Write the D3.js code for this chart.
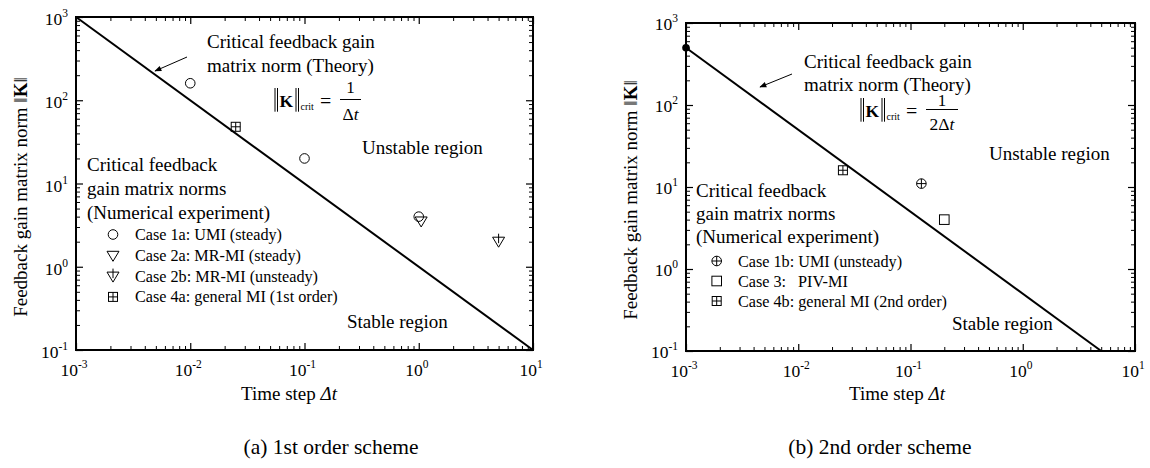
<!DOCTYPE html>
<html>
<head>
<meta charset="utf-8">
<script src="https://cdn.jsdelivr.net/npm/d3@7"></script>
<style>
  body { margin: 0; background: #fff; }
  svg { display: block; }
  text { font-family: "Liberation Serif", "Times New Roman", serif; fill: #000; }
</style>
</head>
<body>
<div id="chart"></div>
<script>
// Chart size
const width = 1150;
const height = 468;

// Axis decades (exponents of 10)
const xDecades = [-3, -2, -1, 0, 1];
const yDecades = [-1, 0, 1, 2, 3];

// Theory lines: ||K||crit = 1/dt  and  1/(2 dt)
const theoryA_dt = [0.001, 10];
const theoryA_K = [1000, 0.1];
const theoryB_dt = [0.001, 5];
const theoryB_K = [500, 0.1];

// (a) 1st order scheme: numerical cases
const case1a_dt = [0.01, 0.1, 1.0];
const case1a_K = [160, 20, 4];
const case2a_dt = [1.05];
const case2a_K = [3.5];
const case2b_dt = [5];
const case2b_K = [2];
const case4a_dt = [0.025];
const case4a_K = [48];

// (b) 2nd order scheme: numerical cases
const case1b_dt = [0.125];
const case1b_K = [11];
const case3_dt = [0.2];
const case3_K = [4];
const case4b_dt = [0.025];
const case4b_K = [16];

// legend labels
const legendA = ["Case 1a: UMI (steady)", "Case 2a: MR-MI (steady)", "Case 2b: MR-MI (unsteady)", "Case 4a: general MI (1st order)"];
const legendB = ["Case 1b: UMI (unsteady)", "Case 3:", "Case 4b: general MI (2nd order)"];

const svg = d3.select("#chart").append("svg")
  .attr("width", width)
  .attr("height", height);

// marker shapes, drawn around (cx, cy)
function drawMarker(g, type, cx, cy) {
  const s = g.append("g").attr("fill", "none").attr("stroke", "#000").attr("stroke-width", 1);
  if (type === "circle") {
    s.append("circle").attr("cx", cx).attr("cy", cy).attr("r", 4.8);
  } else if (type === "tri") {
    s.append("path").attr("d", `M${cx-6},${cy-4.5}L${cx+6},${cy-4.5}L${cx},${cy+5.5}Z`);
  } else if (type === "trivert") {
    s.append("path").attr("d", `M${cx-6},${cy-4.5}L${cx+6},${cy-4.5}L${cx},${cy+5.5}Z`);
    s.append("line").attr("x1", cx).attr("x2", cx).attr("y1", cy - 8).attr("y2", cy + 1.5);
  } else if (type === "boxplus") {
    s.append("rect").attr("x", cx - 4.5).attr("y", cy - 4.5).attr("width", 9).attr("height", 9);
    s.append("path").attr("d", `M${cx-4.5},${cy}L${cx+4.5},${cy}M${cx},${cy-4.5}L${cx},${cy+4.5}`);
  } else if (type === "square") {
    s.append("rect").attr("x", cx - 4.8).attr("y", cy - 4.8).attr("width", 9.6).attr("height", 9.6);
  } else if (type === "oplus") {
    s.append("circle").attr("cx", cx).attr("cy", cy).attr("r", 4.8);
    s.append("path").attr("d", `M${cx-4.8},${cy}L${cx+4.8},${cy}M${cx},${cy-4.8}L${cx},${cy+4.8}`);
  }
}

// "10^e" label
function pow10(t, e) {
  t.text("10");
  t.append("tspan").attr("dy", -8).attr("font-size", 11.5).text(e);
}

function panel(p) {
  const g = svg.append("g");
  const x = d3.scaleLog().domain([1e-3, 10]).range([p.x0, p.x1]);
  const y = d3.scaleLog().domain([0.1, 1000]).range([p.y1, p.y0]);

  const xMajor = xDecades.map(d => Math.pow(10, d));
  const yMajor = yDecades.map(d => Math.pow(10, d));
  const minorOf = decs => {
    const out = [];
    decs.slice(0, -1).forEach(d => { for (let k = 2; k <= 9; k++) out.push(k * Math.pow(10, d)); });
    return out;
  };
  const xMinor = minorOf(xDecades);
  const yMinor = minorOf(yDecades);

  // inward ticks on all four sides
  const axes = [
    [d3.axisBottom(x), `translate(0,${p.y1})`, xMajor, xMinor],
    [d3.axisTop(x), `translate(0,${p.y0})`, xMajor, xMinor],
    [d3.axisLeft(y), `translate(${p.x0},0)`, yMajor, yMinor],
    [d3.axisRight(y), `translate(${p.x1},0)`, yMajor, yMinor]
  ];
  axes.forEach(([ax, tr, major, minor]) => {
    const a1 = g.append("g").attr("transform", tr)
      .call(ax.tickValues(major).tickSize(-7).tickFormat(""));
    a1.select(".domain").remove();
    a1.selectAll("line").attr("stroke", "#000").attr("stroke-width", 1.2);
    const a2 = g.append("g").attr("transform", tr)
      .call(ax.tickValues(minor).tickSize(-4).tickFormat(""));
    a2.select(".domain").remove();
    a2.selectAll("line").attr("stroke", "#000").attr("stroke-width", 1);
  });

  g.append("rect")
    .attr("x", p.x0).attr("y", p.y0)
    .attr("width", p.x1 - p.x0).attr("height", p.y1 - p.y0)
    .attr("fill", "none").attr("stroke", "#000").attr("stroke-width", 2);

  // tick labels
  xDecades.forEach(d => {
    const t = g.append("text").attr("x", x(Math.pow(10, d)) - 2).attr("y", p.y1 + 26)
      .attr("text-anchor", "middle").attr("font-size", 17.5);
    pow10(t, d);
  });
  yDecades.forEach(d => {
    const t = g.append("text").attr("x", p.x0 - 8).attr("y", y(Math.pow(10, d)) + p.ytOff)
      .attr("text-anchor", "end").attr("font-size", 17.5);
    pow10(t, d);
  });

  // axis titles
  const xt = g.append("text").attr("x", p.xTitleX).attr("y", 400)
    .attr("text-anchor", "middle").attr("font-size", 19).text("Time step ");
  xt.append("tspan").attr("font-style", "italic").text("\u0394t");

  const yt = g.append("text")
    .attr("transform", `translate(${p.yTitleX},${p.yTitleY}) rotate(-90)`)
    .attr("text-anchor", "middle").attr("font-size", 19).text("Feedback gain matrix norm \u2016");
  yt.append("tspan").attr("font-weight", "bold").text("K");
  yt.append("tspan").text("\u2016");

  // theory line
  const line = d3.line().x(d => x(d[0])).y(d => y(d[1]));
  g.append("path")
    .datum(p.lineDt.map((v, i) => [v, p.lineK[i]]))
    .attr("d", line)
    .attr("fill", "none").attr("stroke", "#000").attr("stroke-width", 2);

  // data markers
  p.series.forEach(s => {
    s.dt.forEach((v, i) => drawMarker(g, s.type, x(v), y(s.K[i])));
  });

  return { g, x, y };
}

// arrow helper
svg.append("defs").append("marker")
  .attr("id", "ah").attr("viewBox", "0 0 10 10").attr("refX", 9).attr("refY", 5)
  .attr("markerWidth", 9).attr("markerHeight", 7).attr("orient", "auto")
  .append("path").attr("d", "M0,1L10,5L0,9Z").attr("fill", "#000");

function arrow(x1, y1, x2, y2) {
  svg.append("line").attr("x1", x1).attr("y1", y1).attr("x2", x2).attr("y2", y2)
    .attr("stroke", "#000").attr("stroke-width", 1).attr("marker-end", "url(#ah)");
}

function txt(x, y, s, size, anchor) {
  return svg.append("text").attr("x", x).attr("y", y)
    .attr("font-size", size || 19).attr("text-anchor", anchor || "start").text(s);
}

// ||K||_crit = 1 / denom, K baseline at (xb, yb)
function formula(xb, yb, denom, barW, numOff) {
  const f = svg.append("g");
  const bar = (xx) => f.append("line").attr("x1", xx).attr("x2", xx).attr("y1", yb - 19).attr("y2", yb + 4.7)
    .attr("stroke", "#000").attr("stroke-width", 1);
  bar(xb); bar(xb + 2.5);
  f.append("text").attr("x", xb + 4.5).attr("y", yb).attr("font-size", 17.5).attr("font-weight", "bold").text("K");
  bar(xb + 21); bar(xb + 23.5);
  f.append("text").attr("x", xb + 25.5).attr("y", yb + 3).attr("font-size", 10).text("crit");
  f.append("text").attr("x", xb + 45).attr("y", yb + 1).attr("font-size", 20).text("=");
  const fx0 = xb + 65;
  f.append("line").attr("x1", fx0).attr("x2", fx0 + barW).attr("y1", yb - 7.5).attr("y2", yb - 7.5)
    .attr("stroke", "#000").attr("stroke-width", 1);
  f.append("text").attr("x", fx0 + barW / 2).attr("y", yb - numOff).attr("font-size", 17)
    .attr("text-anchor", "middle").text("1");
  const d = f.append("text").attr("x", fx0 + barW / 2).attr("y", yb + 13).attr("font-size", 17.5)
    .attr("text-anchor", "middle").text(denom);
  d.append("tspan").attr("font-style", "italic").text("t");
}

// ---------- (a) 1st order scheme ----------
const pa = panel({
  x0: 76, x1: 533, y0: 17, y1: 350, ytOff: 8,
  xTitleX: 289, yTitleX: 27, yTitleY: 197,
  lineDt: theoryA_dt, lineK: theoryA_K,
  series: [
    { type: "circle", dt: case1a_dt, K: case1a_K },
    { type: "tri", dt: case2a_dt, K: case2a_K },
    { type: "trivert", dt: case2b_dt, K: case2b_K },
    { type: "boxplus", dt: case4a_dt, K: case4a_K }
  ]
});

txt(207, 48, "Critical feedback gain");
txt(207, 72, "matrix norm (Theory)");
arrow(187, 57, 155, 71);
formula(275, 107, "\u0394", 21, 14);
txt(362, 154, "Unstable region");
txt(347, 328, "Stable region");
txt(87, 171, "Critical feedback");
txt(87, 195, "gain matrix norms");
txt(87, 218.5, "(Numerical experiment)");
["circle", "tri", "trivert", "boxplus"].forEach((t, i) => {
  const cy = 234.5 + i * 20.8;
  drawMarker(svg, t, 113, cy + (t === "tri" || t === "trivert" ? 0.5 : 0));
  txt(135, cy + 5.5, legendA[i], 16.2);
});
txt(331, 454, "(a) 1st order scheme", 21.5, "middle");

// ---------- (b) 2nd order scheme ----------
const pb = panel({
  x0: 686, x1: 1135, y0: 23, y1: 351, ytOff: 7,
  xTitleX: 897, yTitleX: 637, yTitleY: 200,
  lineDt: theoryB_dt, lineK: theoryB_K,
  series: [
    { type: "oplus", dt: case1b_dt, K: case1b_K },
    { type: "square", dt: case3_dt, K: case3_K },
    { type: "boxplus", dt: case4b_dt, K: case4b_K }
  ]
});
// filled dot at the start of the theory line
pb.g.append("circle").attr("cx", pb.x(theoryB_dt[0])).attr("cy", pb.y(theoryB_K[0]))
  .attr("r", 3.8).attr("fill", "#000");

txt(804, 67.5, "Critical feedback gain");
txt(804, 91, "matrix norm (Theory)");
arrow(792, 74, 760, 87);
formula(861, 117, "2\u0394", 32, 11.5);
txt(989, 159.5, "Unstable region");
txt(952, 329.5, "Stable region");
txt(696, 197, "Critical feedback");
txt(696, 220, "gain matrix norms");
txt(696, 243, "(Numerical experiment)");
["oplus", "square", "boxplus"].forEach((t, i) => {
  const cy = 261 + i * 20;
  drawMarker(svg, t, 716.7, cy);
  const lt = txt(738, cy + 5.5, legendB[i], 16.2);
  if (i === 1) lt.append("tspan").attr("x", 798).text("PIV-MI");
});
txt(880, 454, "(b) 2nd order scheme", 21.5, "middle");
</script>
</body>
</html>
